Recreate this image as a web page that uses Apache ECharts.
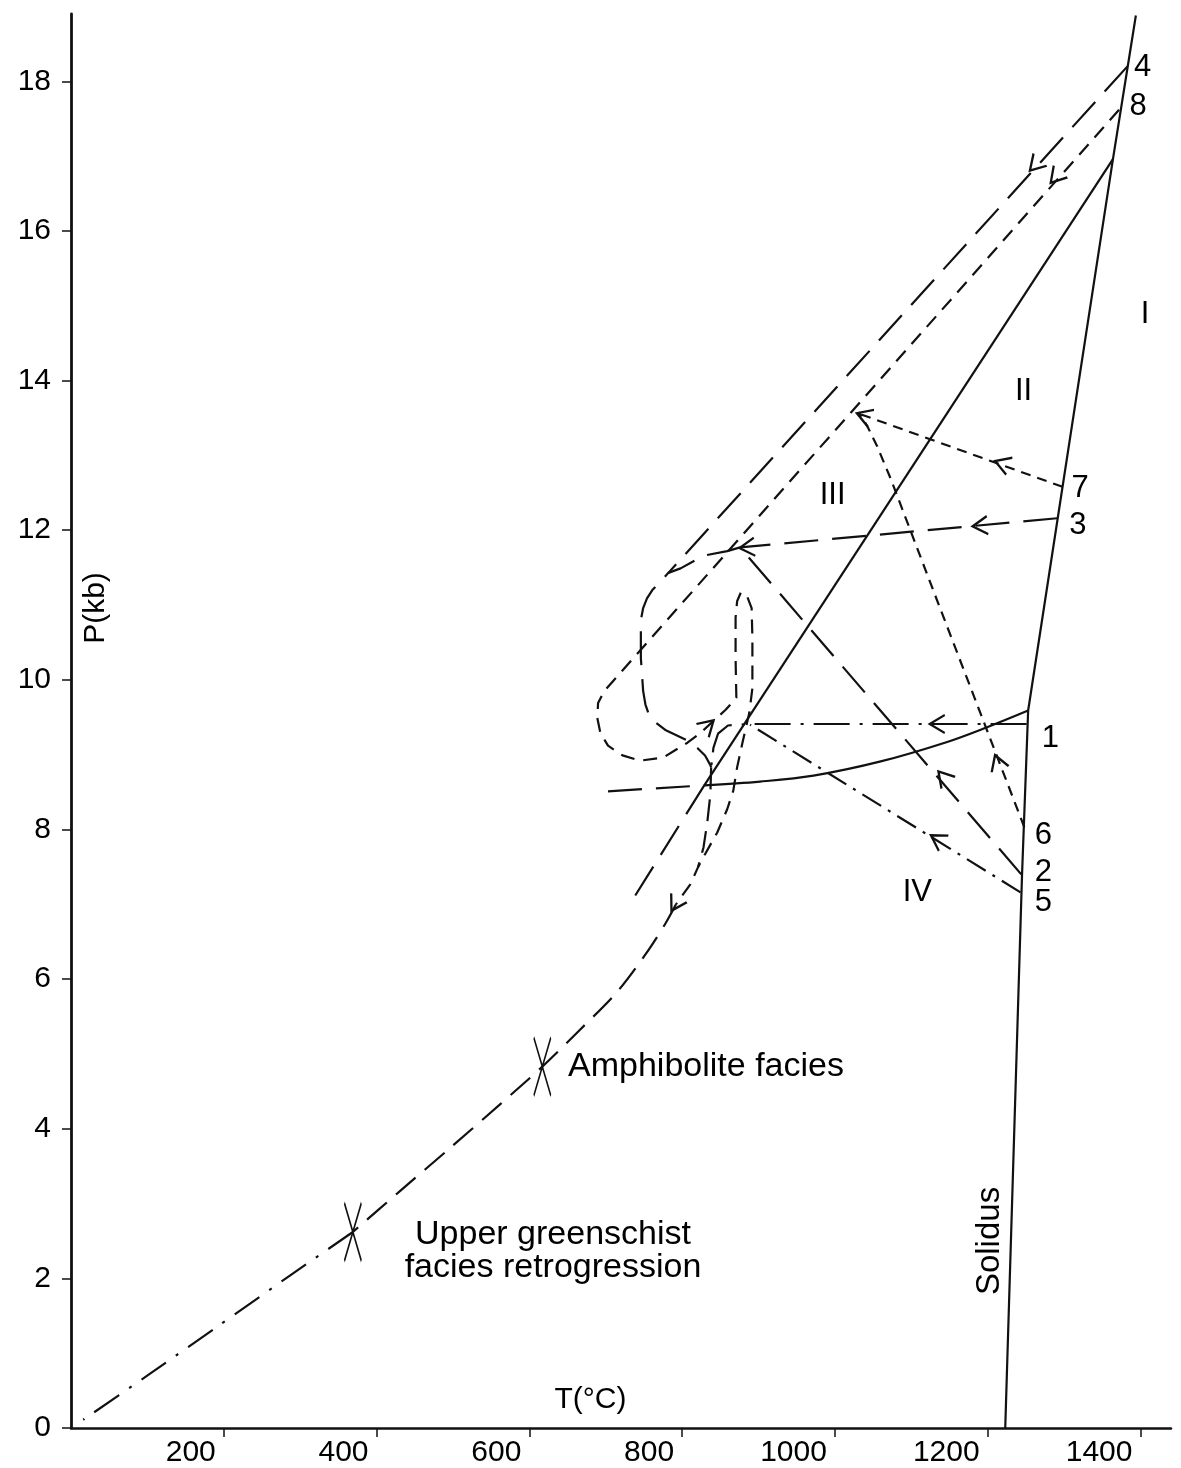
<!DOCTYPE html>
<html>
<head>
<meta charset="utf-8">
<script src="https://cdn.jsdelivr.net/npm/echarts@6/dist/echarts.min.js"></script>
<style>
html,body{margin:0;padding:0;background:#fff;}
#c{width:1181px;height:1468px;}
</style>
</head>
<body>
<div id="c"></div>
<script>
// ---- axis ticks ----
const T_TICKS = [200, 400, 600, 800, 1000, 1200, 1400];
const P_TICKS = [0, 2, 4, 6, 8, 10, 12, 14, 16, 18];

// ---- phase boundaries (T in °C, P in kb) ----
const solidus = [[1223, 0], [1245, 7.40], [1253, 9.59], [1364, 16.96], [1394, 18.88]];
const boundaryLine = [[829, 8.59], [1364, 16.96]];
const boundaryCurve = [[829, 8.59], [902, 8.64], [972, 8.72], [1060, 8.91], [1147, 9.17], [1200, 9.37], [1253, 9.59]];
const boundaryExtLeft = [[703, 8.51], [829, 8.59]];
const boundaryExtDown = [[829, 8.59], [729, 6.96]];

// ---- P-T paths ----
const path4 = [[1383, 18.20], [782, 11.43]];
const path3 = [[1291, 12.16], [876, 11.77]];
const path2 = [[1244, 7.40], [876, 11.77]];
const loopLong = [[876, 11.77], [859, 11.72], [828, 11.66], [798, 11.49], [782, 11.43], [761, 11.20], [754, 11.09], [749, 10.96], [746, 10.80], [746, 10.29], [749, 9.85], [752, 9.67], [758, 9.49], [778, 9.33], [807, 9.19], [820, 9.09], [830, 8.99], [837, 8.86], [838, 8.83]];
const path8 = [[1372, 17.62], [698, 9.85], [690, 9.69], [689, 9.49], [693, 9.29], [703, 9.12], [722, 8.99], [745, 8.92], [775, 8.96], [807, 9.16], [824, 9.29], [841, 9.45], [857, 9.60], [871, 9.76],
  [870, 10.29], [870, 10.83], [872, 11.05], [877, 11.17], [885, 11.12], [891, 10.96], [892, 10.56], [892, 9.89], [888, 9.56], [879, 9.16], [872, 8.83], [867, 8.52], [859, 8.27], [846, 7.96], [830, 7.67], [821, 7.50], [811, 7.27], [792, 7.00]];
const path7 = [[1298, 12.58], [1031, 13.56]];
const path6 = [[1248, 8.03], [1208, 9.09], [1129, 11.19], [1073, 12.69], [1055, 13.13], [1042, 13.40], [1031, 13.58]];
const path1 = [[1251, 9.41], [887, 9.41], [860, 9.39], [847, 9.28], [841, 9.09], [838, 8.83]];
const path5 = [[1243, 7.16], [889, 9.40]];
const cuspDown = [[838, 8.83], [837, 8.47], [833, 8.10], [828, 7.76], [821, 7.50]];
const retroUpper = [[792, 7.00], [778, 6.74], [752, 6.33], [715, 5.83], [667, 5.33], [617, 4.83], [562, 4.33], [496, 3.74], [431, 3.17], [369, 2.62]];
const retroLower = [[369, 2.62], [287, 2.04], [195, 1.38], [104, 0.73], [16, 0.11]];

// facies marks on the retrograde path
const faciesMarks = [[617, 4.83], [369, 2.62]];

// arrowheads: [T, P, direction in degrees]
const arrows = [
  [1262, 16.88, 47], [1289, 16.72, 49], [1219, 12.89, -20], [1038, 13.53, -20],
  [1190, 12.06, 5], [885, 11.77, 5], [1134, 9.41, 0], [1134, 7.87, -32],
  [1142, 8.70, -49], [1213, 8.90, -70], [834, 9.39, -137], [791, 7.00, 60]
];

// text annotations
const labelText = ['4', '8', '7', '3', '1', '6', '2', '5', 'I', 'II', 'III', 'IV'];
const labelPos = [[1403, 18.19], [1397, 17.66], [1321, 12.56], [1318, 12.06], [1282, 9.22], [1273, 7.92], [1273, 7.43], [1273, 7.03], [1406, 14.89], [1247, 13.85], [997, 12.46], [1108, 7.16]];

const FONT = '"Liberation Sans", Arial, Helvetica, sans-serif';
const INK = '#111';

function line(data, dash, smooth, width) {
  return {
    type: 'line', data: data, symbol: 'none', smooth: smooth || false,
    silent: true, animation: false,
    lineStyle: { color: INK, width: width || 2.2, type: dash, cap: 'butt', join: 'round' },
    z: 3
  };
}

const LONG = [34, 14];
const MED = [14, 9];
const SHORT = [10, 7];

const series = [
  line(solidus, 'solid'),
  line(boundaryLine, 'solid'),
  line(boundaryCurve, 'solid', 0.35),
  line(boundaryExtLeft, LONG),
  line(boundaryExtDown, LONG),
  line(path4, LONG),
  line(path3, LONG),
  line(path2, LONG),
  line(loopLong, LONG),
  line(path8, MED),
  line(path7, SHORT),
  line(path6, SHORT),
  line(path1, [36, 10, 3, 10]),
  line(path5, [22, 8, 3, 8]),
  line(cuspDown, [22, 10]),
  line(retroUpper, [26, 12], 0.3),
  line(retroLower, [30, 12, 3, 12], 0.2),
  {
    type: 'scatter', data: faciesMarks, silent: true, animation: false,
    symbol: 'path://M0,0 L1,1 M1,0 L0,1', symbolSize: [17, 58],
    itemStyle: { color: 'rgba(0,0,0,0)', borderColor: INK, borderWidth: 2.2, opacity: 1 }, z: 4
  },
  {
    type: 'scatter', data: arrows, silent: true, animation: false,
    symbol: 'path://M1,0 L0,0.5 L1,1', symbolSize: [15, 18],
    symbolRotate: function (v) { return v[2]; },
    itemStyle: { color: 'rgba(0,0,0,0)', borderColor: INK, borderWidth: 2.2, opacity: 1 }, z: 5
  },
  {
    type: 'scatter', silent: true, animation: false, symbolSize: 1,
    itemStyle: { color: 'rgba(0,0,0,0)', opacity: 1 },
    data: labelText.map(function (t, i) {
      return { value: labelPos[i], label: { show: true, formatter: t } };
    }),
    label: { position: 'inside', color: '#000', fontSize: 31, fontFamily: FONT, textBorderWidth: 0 },
    z: 6
  },
  {
    type: 'scatter', silent: true, animation: false, symbolSize: 1,
    itemStyle: { color: 'rgba(0,0,0,0)', opacity: 1 },
    data: [
      { value: [650, 4.83], label: { show: true, formatter: 'Amphibolite facies', position: 'right', distance: 0, fontSize: 34 } },
      { value: [631, 2.36], label: { show: true, formatter: 'Upper greenschist\nfacies retrogression', position: 'inside', align: 'center', fontSize: 34, lineHeight: 33 } },
      { value: [1203, 2.50], label: { show: true, formatter: 'Solidus', position: 'inside', rotate: 90, fontSize: 33 } },
      { value: [680, 0.38], label: { show: true, formatter: 'T(°C)', position: 'inside', fontSize: 30 } },
      { value: [33, 10.96], label: { show: true, formatter: 'P(kb)', position: 'inside', rotate: 90, fontSize: 30 } }
    ],
    label: { color: '#000', fontFamily: FONT, textBorderWidth: 0 },
    z: 6
  }
];

const chart = echarts.init(document.getElementById('c'), null, { renderer: 'canvas' });
chart.setOption({
  backgroundColor: '#ffffff',
  animation: false,
  grid: { left: 71, right: 10, top: 14, bottom: 35, containLabel: false },
  xAxis: {
    type: 'value', min: 0, max: 1440,
    splitLine: { show: false },
    axisLine: { show: true, onZero: false, lineStyle: { color: INK, width: 2.5 } },
    axisTick: { show: true, inside: false, length: 9, customValues: T_TICKS, lineStyle: { color: INK, width: 1.5 } },
    axisLabel: { show: true, customValues: T_TICKS, margin: 10, align: 'right', padding: [0, 8, 0, 0], color: '#000', fontSize: 30, fontFamily: FONT, formatter: function (v) { return String(v); } }
  },
  yAxis: {
    type: 'value', min: 0, max: 18.9,
    splitLine: { show: false },
    axisLine: { show: true, onZero: false, lineStyle: { color: INK, width: 2.8 } },
    axisTick: { show: true, inside: false, length: 9, customValues: P_TICKS, lineStyle: { color: INK, width: 1.5 } },
    axisLabel: { show: true, customValues: P_TICKS, margin: 20, color: '#000', fontSize: 30, fontFamily: FONT, formatter: function (v) { return String(v); } }
  },
  series: series
});
</script>
</body>
</html>
